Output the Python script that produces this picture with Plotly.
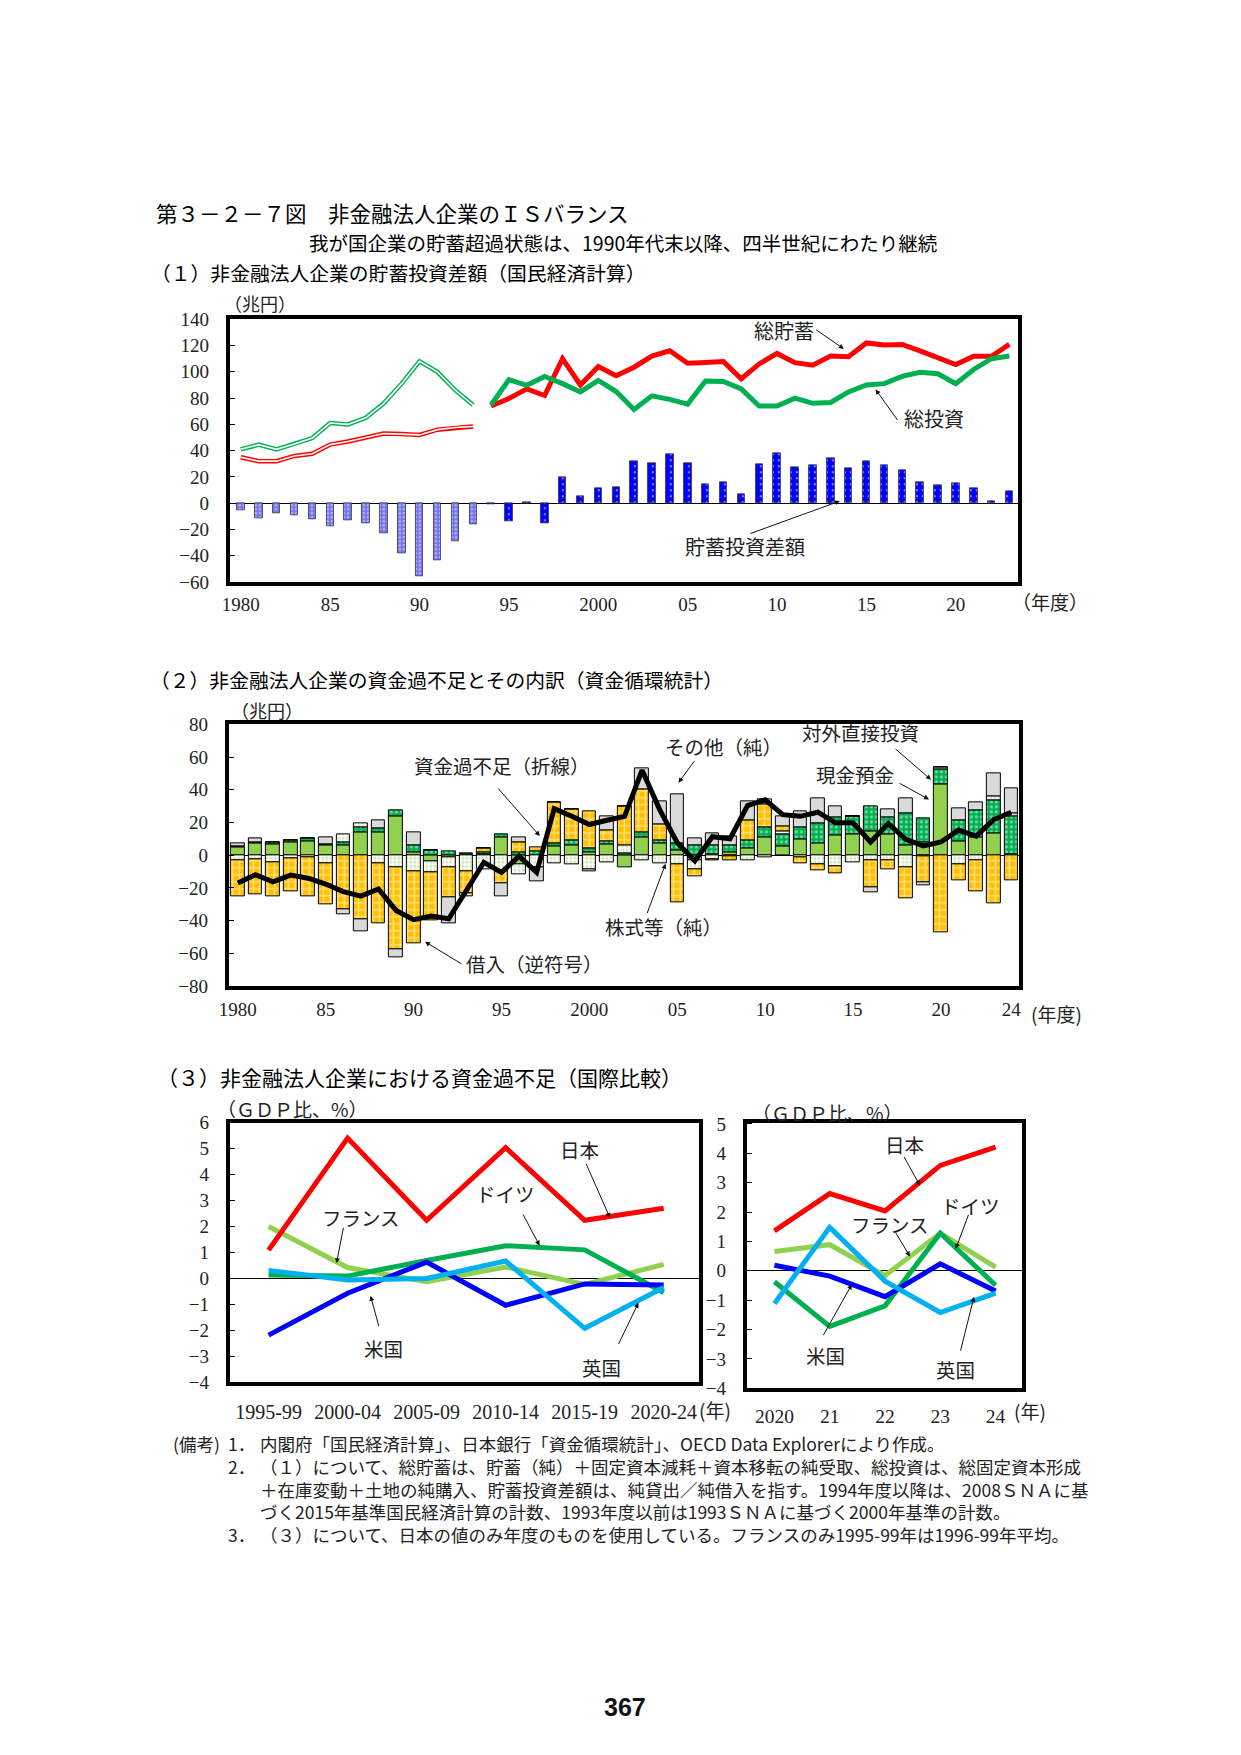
import plotly.graph_objects as go

W, H = 1241, 1755
def px(x): return x / W
def py(y): return 1 - y / H

JP = "Noto Sans CJK JP"
SERIF = "Liberation Serif, DejaVu Serif, serif"

# ---------------- Panel 1 data (兆円) ----------------
fy_old = list(range(1980, 1994))
fy_new = list(range(1994, 2024))
saving_old = [35, 32, 32, 36, 37.6, 44.6, 47, 50, 53, 52.6, 52, 56, 57.6, 58.4]
invest_old = [41, 44.6, 41, 45, 49.6, 61, 60, 65, 76, 91, 108, 100, 86, 74.7]
gap_old = [-5, -11.3, -8, -8.8, -12, -17.3, -13, -15, -22.5, -38, -55.6, -43.6, -28.6, -16.3]
saving_new = [74, 79.7, 87, 82, 110, 90, 104, 97, 103.5, 112, 116, 106.5, 107, 107.8, 94.7,
              106, 114, 107, 105, 112, 111.5, 122, 120.5, 120.8, 116, 111, 105.5, 111.8, 111.8, 121]
invest_new = [74.7, 94, 89.7, 96.5, 91, 84.7, 93.5, 85, 71.4, 81.7, 79, 75.4, 93, 92.7, 87,
              74, 74, 80, 76, 76.7, 84.7, 90, 91, 96.5, 99.7, 98.5, 91, 101.8, 110, 112]
gap_new = [-0.7, -13.8, 0.7, -15, 19.5, 5.3, 11.3, 12, 31.6, 30.8, 37.6, 30.8, 14.3, 15.8, 6.8,
           30, 38.3, 27, 28.6, 34.6, 26.3, 31.6, 28.6, 24.8, 15.8, 13.5, 15, 11.5, 1.5, 9]
p1_tickvals = [1980, 1985, 1990, 1995, 2000, 2005, 2010, 2015, 2020]
p1_ticktext = ["1980", "85", "90", "95", "2000", "05", "10", "15", "20"]

# ---------------- Panel 2 data (兆円) ----------------
fy2 = list(range(1980, 2025))
cash = [4.6, 7.5, 6.6, 7.6, 8.8, 5.8, 5.8, 14.2, 13.8, 23.8,
        2, -3.8, -1.5, 0.4, 0.6, 11.2, -5.4, 0, 5.2, 5.8,
        1.8, 6.6, -7.2, 11.2, 7.2, 3.2, -3, 0.8, 1.6, 4.2,
        11.2, 5.2, 9.8, 7.2, 12.2, 12.8, 14.6, 12.8, 6.2, 7.8,
        43.2, 8.6, 10.8, 13.2, 0.8]
fdi = [0.8, 0.6, 1.2, 1.4, 1.4, 0.8, 1.8, 3, 2.8, 3.8,
       4.3, 3.2, 2.6, 1, 1.2, 1.6, 2, 2.6, 2, 3.4,
       2.4, 2, 1.4, 3, 2, 4, 6, 5, 4.2, 5,
       6, 7.6, 7.4, 12.4, 11, 11, 15.2, 10.4, 19.6, 15,
       9.4, 13, 16.4, 20.6, 23]
stock = [-3.4, -2.4, -4.2, -1.8, -1.2, -4.8, 5.2, 2.4, -4.8, -7.4,
         -9.9, -6.6, -6, -9.8, -8.6, -9.8, -6, -7.5, -5, -5.4,
         -8.8, -4.2, 4.6, -2.8, -5.2, -5.4, -5.5, -2.5, -0.8, -2.8,
         -1.2, 2, -1.4, -5.4, -6.8, -4.2, -2.8, -2.8, -7.4, -0.8,
         1.2, -5.4, -3.4, 2, 2]
borrow = [-22, -21.4, -21, -20.4, -24, -25, -33.2, -39.4, -37, -50,
          -44, -29.4, -18.5, -13.6, 2.2, -7.6, 6, 2, 25.4, 18.6,
          22.8, 6.6, 24, 26, 10, -23.4, -4.4, -0.5, -2.6, 12,
          14, 3, -3.4, -3.8, -4.4, 0, -16.6, -6, -19, -16,
          -47.2, -10, -18.8, -29.4, -15.4]
other = [1.6, 2.2, 0, 0, 0, 4.2, -3.2, -6.8, 5, -4.8,
         7.7, 0, -15.8, -2, 0, -7.4, 3.2, -8.7, 0, 0,
         -1, 8.4, 0, 13, 13.6, 30, 4.6, 7.5, 6, 11.6,
         3, 6, 9.6, 15, 6.6, 0, -3.4, 4.6, 8.8, -1.6,
         0, 7.2, 5, 14, 15]
balance = [-17, -11.9, -16.2, -12.1, -14, -17.6, -22.2, -25, -20.6, -33.7,
           -39.4, -37.2, -38.8, -21, -4.3, -10.5, -0.6, -10.5, 28.5, 23.8,
           18.8, 21.4, 23.8, 52, 27.9, 7.7, -3.4, 11.3, 10.1, 30.3,
           33.9, 24.8, 23.8, 26.3, 19.8, 19.8, 8.1, 19.4, 9.7, 5.7,
           8.1, 15.4, 11.7, 21.8, 26.3]
p2_tickvals = [1980, 1985, 1990, 1995, 2000, 2005, 2010, 2015, 2020, 2024]
p2_ticktext = ["1980", "85", "90", "95", "2000", "05", "10", "15", "20", "24"]

# ---------------- Panel 3 data (GDP比, %) ----------------
periods = ["1995-99", "2000-04", "2005-09", "2010-14", "2015-19", "2020-24"]
jp_p = [1.09, 5.4, 2.24, 5.03, 2.24, 2.7]
de_p = [0.13, 0.09, 0.69, 1.26, 1.1, -0.54]
fr_p = [2.0, 0.42, -0.13, 0.44, -0.23, 0.54]
us_p = [-2.18, -0.57, 0.63, -1.03, -0.21, -0.25]
uk_p = [0.31, -0.06, 0.0, 0.67, -1.92, -0.35]

years_r = ["2020", "21", "22", "23", "24"]
jp_r = [1.36, 2.63, 2.04, 3.59, 4.21]
fr_r = [0.66, 0.89, -0.16, 1.28, 0.13]
de_r = [-0.37, -1.89, -1.19, 1.28, -0.49]
us_r = [0.19, -0.18, -0.88, 0.24, -0.69]
uk_r = [-1.11, 1.48, -0.35, -1.42, -0.76]

C_JP, C_DE, C_FR, C_US, C_UK = "#ff0000", "#00b050", "#92d050", "#0000ff", "#00b0f0"

fig = go.Figure()

# ---- Panel 1 ----
fig.add_trace(go.Bar(x=fy_old, y=gap_old, xaxis="x", yaxis="y", width=0.42,
                     marker=dict(color="#7373f2", line=dict(color="#333", width=0.8),
                                 pattern=dict(shape=".", fgcolor="white", bgcolor="#7373f2",
                                              size=4, solidity=0.3))))
fig.add_trace(go.Bar(x=fy_new, y=gap_new, xaxis="x", yaxis="y", width=0.42,
                     marker=dict(color="#0000ff", line=dict(color="#333", width=0.8),
                                 pattern=dict(shape=".", fgcolor="white", bgcolor="#0000ff",
                                              size=6, solidity=0.12))))
for ys, col in [(invest_old, "#00b050"), (saving_old, "#ff0000")]:
    fig.add_trace(go.Scatter(x=fy_old, y=ys, xaxis="x", yaxis="y", mode="lines",
                             line=dict(color=col, width=4.5)))
    fig.add_trace(go.Scatter(x=fy_old, y=ys, xaxis="x", yaxis="y", mode="lines",
                             line=dict(color="white", width=1.6)))
fig.add_trace(go.Scatter(x=fy_new, y=saving_new, xaxis="x", yaxis="y", mode="lines",
                         line=dict(color="#ff0000", width=5)))
fig.add_trace(go.Scatter(x=fy_new, y=invest_new, xaxis="x", yaxis="y", mode="lines",
                         line=dict(color="#00b050", width=5)))

# ---- Panel 2 ----
blk = dict(color="black", width=1)
fig.add_trace(go.Bar(x=fy2, y=cash, xaxis="x2", yaxis="y2", width=0.78,
                     marker=dict(color="#92d050", line=blk)))
fig.add_trace(go.Bar(x=fy2, y=fdi, xaxis="x2", yaxis="y2", width=0.78,
                     marker=dict(color="#00b050", line=blk,
                                 pattern=dict(shape=".", fgcolor="white", bgcolor="#00b050",
                                              size=5, solidity=0.3))))
fig.add_trace(go.Bar(x=fy2, y=stock, xaxis="x2", yaxis="y2", width=0.78,
                     marker=dict(color="white", line=blk,
                                 pattern=dict(shape=".", fgcolor="#9ccc66", bgcolor="white",
                                              size=4, solidity=0.4))))
fig.add_trace(go.Bar(x=fy2, y=borrow, xaxis="x2", yaxis="y2", width=0.78,
                     marker=dict(color="#ffc000", line=blk,
                                 pattern=dict(shape="+", fgcolor="white", bgcolor="#ffc000",
                                              size=7, solidity=0.4))))
fig.add_trace(go.Bar(x=fy2, y=other, xaxis="x2", yaxis="y2", width=0.78,
                     marker=dict(color="#d9d9d9", line=blk)))
fig.add_trace(go.Scatter(x=fy2, y=balance, xaxis="x2", yaxis="y2", mode="lines",
                         line=dict(color="black", width=5)))

# ---- Panel 3 ----
for ys, col in [(fr_p, C_FR), (de_p, C_DE), (us_p, C_US), (uk_p, C_UK), (jp_p, C_JP)]:
    fig.add_trace(go.Scatter(x=periods, y=ys, xaxis="x3", yaxis="y3", mode="lines",
                             line=dict(color=col, width=5)))
for ys, col in [(fr_r, C_FR), (de_r, C_DE), (us_r, C_US), (uk_r, C_UK), (jp_r, C_JP)]:
    fig.add_trace(go.Scatter(x=years_r, y=ys, xaxis="x4", yaxis="y4", mode="lines",
                             line=dict(color=col, width=5)))

tickf = dict(family=SERIF, size=19, color="#222")
frame = dict(showline=True, mirror=True, linewidth=4, linecolor="black", showgrid=False)

def xax(dom, rng, standoff=3, fsize=19, **kw):
    d = dict(domain=[px(dom[0]), px(dom[1])], range=rng, zeroline=False, ticks="",
             tickfont=dict(family=SERIF, size=fsize, color="#222"),
             ticklabelstandoff=standoff, **frame)
    d.update(kw)
    return d

def yax(dom, rng, dtick, **kw):
    d = dict(domain=[py(dom[1]), py(dom[0])], range=rng, dtick=dtick, zeroline=True,
             zerolinecolor="black", zerolinewidth=1, ticks="inside", ticklen=5,
             tickcolor="black", tickfont=tickf, ticklabelstandoff=13, **frame)
    d.update(kw)
    return d

fig.update_layout(
    width=W, height=H, margin=dict(l=0, r=0, t=0, b=0),
    paper_bgcolor="white", plot_bgcolor="white", showlegend=False,
    barmode="relative", bargap=0,
    font=dict(family=JP, color="#222"),
    xaxis=xax((222, 1018), [1979.39, 2023.49], 2, anchor="y", tickvals=p1_tickvals, ticktext=p1_ticktext),
    yaxis=yax((313, 579), [-60, 140], 20, anchor="x"),
    xaxis2=xax((221, 1019), [1979.49, 2024.45], 3, anchor="y2", tickvals=p2_tickvals, ticktext=p2_ticktext),
    yaxis2=yax((723, 988), [-80, 80], 20, anchor="x2"),
    xaxis3=xax((222, 696), [-0.49, 5.45], 9, 20, anchor="y3", type="category"),
    yaxis3=yax((1126, 1389), [-4, 6], 1, anchor="x3"),
    xaxis4=xax((744, 1022), [-0.5, 4.48], 7, 19.5, anchor="y4", type="category"),
    yaxis4=yax((1126, 1395), [-4, 5.05], 1, anchor="x4"),
)

ann = []
def txt(x, y, s, size=17, anchor="center", family=JP, color="#222", align="center"):
    ann.append(dict(x=px(x), y=py(y), xref="paper", yref="paper", text=s, showarrow=False,
                    xanchor=anchor, yanchor="middle", align=align,
                    font=dict(family=family, size=size, color=color)))

def arr(tx, ty, hx, hy):
    ann.append(dict(x=px(hx), y=py(hy), xref="paper", yref="paper", ax=tx - hx, ay=ty - hy,
                    axref="pixel", ayref="pixel", text="", showarrow=True, arrowhead=2,
                    arrowsize=1, arrowwidth=1, arrowcolor="#111", standoff=0))

def dtxt(xr, yr, x, y, s, size=19.5):
    ann.append(dict(x=x, y=y, xref=xr, yref=yr, text=s, showarrow=False,
                    xanchor="center", yanchor="middle", font=dict(family=JP, size=size, color="#222")))

def darr(xr, yr, tx, ty, hx, hy):
    ann.append(dict(x=hx, y=hy, xref=xr, yref=yr, ax=tx, ay=ty, axref=xr, ayref=yr, text="",
                    showarrow=True, arrowhead=2, arrowsize=1, arrowwidth=1, arrowcolor="#111",
                    standoff=0))

# Titles (centered on the reference text spans)
txt(386, 205, "第３－２－７図　非金融法人企業のＩＳバランス", 21.5, color="#000")
txt(619, 235, "我が国企業の貯蓄超過状態は、1990年代末以降、四半世紀にわたり継続", 19.5, color="#000")
txt(392, 266, "（１）非金融法人企業の貯蓄投資差額（国民経済計算）", 19.8, color="#000")
txt(431, 678, "（２）非金融法人企業の資金過不足とその内訳（資金循環統計）", 19.8, color="#000")
txt(414, 1080, "（３）非金融法人企業における資金過不足（国際比較）", 21, color="#000")

# Panel 1 labels
txt(252, 297, "（兆円）", 18)
txt(1050, 599, "（年度）", 19)
txt(782, 324, "総貯蓄", 20)
arr(813, 323, 842, 343)
txt(933, 413, "総投資", 20)
arr(897, 416, 874, 384)
txt(742, 543, "貯蓄投資差額", 20)
arr(747, 530, 838, 497)

# Panel 2 labels
txt(260, 708, "（兆円）", 18)
txt(1057, 1016, "(年度)", 19)
txt(497, 765, "資金過不足（折線）", 19.5)
arr(492, 787, 535, 836)
txt(530, 965, "借入（逆符号）", 19.5)
arr(457, 966, 419, 943)
txt(660, 928, "株式等（純）", 19.5)
arr(643, 915, 662, 864)
txt(720, 745, "その他（純）", 19.5)
arr(692, 759, 675, 782)
txt(859, 731, "対外直接投資", 19.5)
arr(893, 747, 930, 779)
txt(853, 774, "現金預金", 19.5)
arr(897, 782, 928, 799)

# Panel 3 labels
txt(285, 1112, "（ＧＤＰ比、%）", 19)
txt(825, 1116, "（ＧＤＰ比、%）", 19)
txt(712, 1416, "(年)", 19)
txt(1030, 1417, "(年)", 19)
dtxt("x3", "y3", 3.94, 4.97, "日本")
darr("x3", "y3", 4.01, 4.47, 4.32, 2.33)
dtxt("x3", "y3", 3.0, 3.27, "ドイツ")
darr("x3", "y3", 3.21, 2.52, 3.43, 1.26)
dtxt("x3", "y3", 1.17, 2.33, "フランス")
darr("x3", "y3", 0.95, 2.01, 0.86, 0.59)
dtxt("x3", "y3", 1.46, -2.68, "米国")
darr("x3", "y3", 1.40, -1.89, 1.29, -0.67)
dtxt("x3", "y3", 4.21, -3.43, "英国")
darr("x3", "y3", 4.42, -2.58, 4.68, -0.94)

dtxt("x4", "y4", 2.36, 4.29, "日本")
darr("x4", "y4", 2.33, 3.93, 2.63, 2.91)
dtxt("x4", "y4", 3.55, 2.24, "ドイツ")
darr("x4", "y4", 3.52, 1.96, 3.28, 0.75)
dtxt("x4", "y4", 2.09, 1.59, "フランス")
darr("x4", "y4", 2.18, 1.34, 2.45, 0.49)
dtxt("x4", "y4", 0.93, -2.88, "米国")
darr("x4", "y4", 0.87, -2.24, 1.40, -0.46)
dtxt("x4", "y4", 3.28, -3.36, "英国")
darr("x4", "y4", 3.36, -2.77, 3.61, -0.88)

# Notes (multi-line blocks so the lines share one text box each)
NS = 17.5
note_lines = [
    "内閣府「国民経済計算」、日本銀行「資金循環統計」、OECD Data Explorerにより作成。",
    "（１）について、総貯蓄は、貯蓄（純）＋固定資本減耗＋資本移転の純受取、総投資は、総固定資本形成",
    "＋在庫変動＋土地の純購入、貯蓄投資差額は、純貸出／純借入を指す。1994年度以降は、2008ＳＮＡに基",
    "づく2015年基準国民経済計算の計数、1993年度以前は1993ＳＮＡに基づく2000年基準の計数。",
    "（３）について、日本の値のみ年度のものを使用している。フランスのみ1995-99年は1996-99年平均。",
]
note_nums = ["1．", "2．", "\u00a0", "\u00a0", "3．"]
txt(670, 1497, "<br>".join(note_lines), NS, align="left")
txt(234, 1497, "<br>".join(note_nums), NS, align="left")
txt(188, 1451, "(備考)", NS)

txt(621, 1718, "<b>367</b>", 25, "center", family="Liberation Sans Narrow, Liberation Sans, sans-serif", color="#111")

fig.update_layout(annotations=ann)
fig.write_html("out.html")
